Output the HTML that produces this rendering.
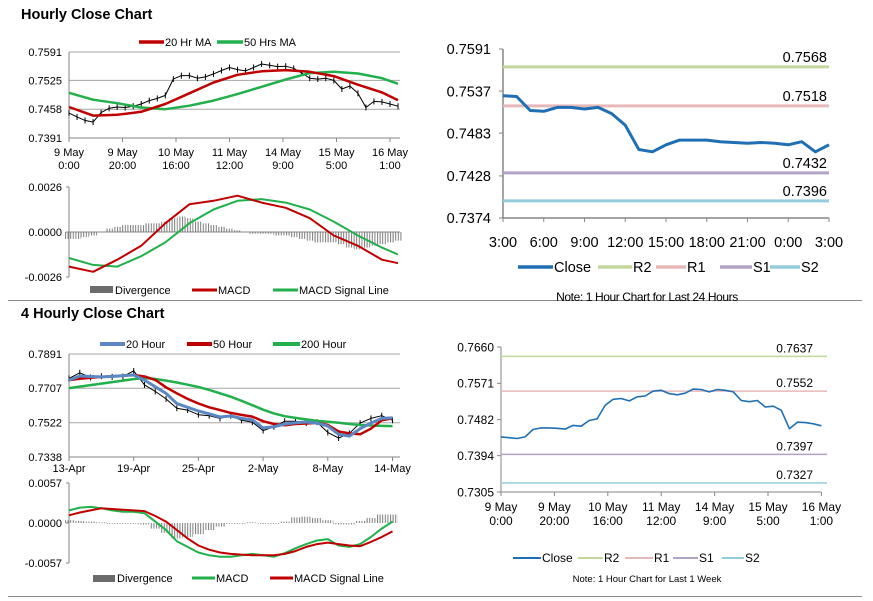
<!DOCTYPE html>
<html><head><meta charset="utf-8">
<style>
html,body{margin:0;padding:0;background:#fff;}
svg{display:block;font-family:"Liberation Sans",Arial,sans-serif;}
</style></head>
<body>
<svg id="root" width="873" height="601" viewBox="0 0 873 601" xmlns="http://www.w3.org/2000/svg">
<defs>
<pattern id="hatch" width="2.6" height="4" patternUnits="userSpaceOnUse"><rect x="0" y="0" width="1" height="4" fill="#7a7a7a"/></pattern>
</defs>
<rect width="873" height="601" fill="#fff"/>
<text x="21" y="19" font-size="14.5" font-weight="bold" fill="#000">Hourly Close Chart</text>
<text x="21" y="318" font-size="14.5" font-weight="bold" fill="#000">4 Hourly Close Chart</text>
<line x1="8" y1="300.5" x2="862" y2="300.5" stroke="#8a8a8a" stroke-width="1"/>
<line x1="8" y1="596.5" x2="862" y2="596.5" stroke="#8a8a8a" stroke-width="1"/>

<g font-size="11">
<line x1="139" y1="42" x2="164" y2="42" stroke="#c00000" stroke-width="3.5"/><text x="165" y="46">20 Hr MA</text>
<line x1="217" y1="42" x2="243" y2="42" stroke="#21b04b" stroke-width="3.5"/><text x="244" y="46">50 Hrs MA</text>
</g>
<g font-size="11">
<rect x="90" y="286" width="23" height="7" fill="#6b6b6b"/><text x="115" y="294">Divergence</text>
<line x1="192" y1="290" x2="217" y2="290" stroke="#c00000" stroke-width="3"/><text x="218" y="294">MACD</text>
<line x1="273" y1="290" x2="298" y2="290" stroke="#21b04b" stroke-width="3"/><text x="299" y="294">MACD Signal Line</text>
</g>
<g font-size="11">
<line x1="100" y1="344" x2="125" y2="344" stroke="#5b87c2" stroke-width="4"/><text x="126" y="348">20 Hour</text>
<line x1="187" y1="344" x2="212" y2="344" stroke="#c00000" stroke-width="4"/><text x="213" y="348">50 Hour</text>
<line x1="273" y1="344" x2="300" y2="344" stroke="#21b04b" stroke-width="4"/><text x="301" y="348">200 Hour</text>
</g>
<g font-size="11">
<rect x="93" y="575" width="22" height="7" fill="#6b6b6b"/><text x="117" y="582">Divergence</text>
<line x1="192" y1="578" x2="215" y2="578" stroke="#21b04b" stroke-width="3"/><text x="216" y="582">MACD</text>
<line x1="270" y1="578" x2="293" y2="578" stroke="#c00000" stroke-width="3"/><text x="294" y="582">MACD Signal Line</text>
</g>
<g font-size="14.5">
<line x1="518" y1="267" x2="553" y2="267" stroke="#1f6fb5" stroke-width="3.5"/><text x="554" y="272">Close</text>
<line x1="598" y1="267" x2="632" y2="267" stroke="#c3d69b" stroke-width="3.5"/><text x="633" y="272">R2</text>
<line x1="656" y1="267" x2="686" y2="267" stroke="#e6b9b8" stroke-width="3.5"/><text x="687" y="272">R1</text>
<line x1="720" y1="267" x2="752" y2="267" stroke="#b3a2c7" stroke-width="3.5"/><text x="753" y="272">S1</text>
<line x1="770" y1="267" x2="800" y2="267" stroke="#93cddd" stroke-width="3.5"/><text x="801" y="272">S2</text>
</g>
<text x="647" y="301" font-size="12" text-anchor="middle" letter-spacing="-0.4">Note: 1 Hour Chart for Last 24 Hours</text>
<g font-size="12">
<line x1="513" y1="558" x2="541" y2="558" stroke="#1f6fb5" stroke-width="2"/><text x="542" y="562">Close</text>
<line x1="578" y1="558" x2="603" y2="558" stroke="#c3d69b" stroke-width="2"/><text x="604" y="562">R2</text>
<line x1="625" y1="558" x2="653" y2="558" stroke="#e6b9b8" stroke-width="2"/><text x="654" y="562">R1</text>
<line x1="673" y1="558" x2="698" y2="558" stroke="#b3a2c7" stroke-width="2"/><text x="699" y="562">S1</text>
<line x1="722" y1="558" x2="744" y2="558" stroke="#93cddd" stroke-width="2"/><text x="745" y="562">S2</text>
</g>
<text x="647" y="582" font-size="9.5" text-anchor="middle">Note: 1 Hour Chart for Last 1 Week</text>
</svg>
<script>
// ---------- Chart A: hourly close (3-hour steps) ----------
const closeA = [0.7449,0.7440,0.7432,0.7428,0.7450,0.7460,0.7463,0.7462,0.7465,0.7470,0.7478,0.7483,0.7490,0.7528,0.7536,0.7536,0.7530,0.7533,0.7540,0.7548,0.7555,0.7550,0.7547,0.7555,0.7563,0.7560,0.7557,0.7558,0.7553,0.7542,0.7530,0.7528,0.7530,0.7525,0.7505,0.7512,0.7495,0.7462,0.7476,0.7475,0.7470,0.7465];
const maHoursA = [0,9,18,27,36,45,54,63,72,81,90,99,108,117,123];
const ma20A = [0.7463,0.7443,0.7445,0.7452,0.7470,0.7495,0.7520,0.7538,0.7546,0.7549,0.7545,0.7535,0.7515,0.7497,0.7479];
const ma50A = [0.7496,0.7480,0.7472,0.7462,0.7458,0.7466,0.7478,0.7493,0.7510,0.7527,0.7542,0.7545,0.7541,0.7530,0.7517];
const ticksA = [0.7591,0.7525,0.7458,0.7391];
const xLabelsA = [["9 May","0:00"],["9 May","20:00"],["10 May","16:00"],["11 May","12:00"],["14 May","9:00"],["15 May","5:00"],["16 May","1:00"]];
const macdA = [-0.0020,-0.0023,-0.0016,-0.0008,0.0005,0.0016,0.0018,0.0021,0.0017,0.0014,0.0008,-0.0002,-0.0008,-0.0016,-0.0018];
const signalA = [-0.0015,-0.0019,-0.0020,-0.0014,-0.0006,0.0005,0.0013,0.0018,0.0019,0.0017,0.0013,0.0006,-0.0002,-0.0009,-0.0013];
const divA = [-0.0004,-0.0004,-0.0003,-0.0002,0.0000,0.0002,0.0003,0.0004,0.0004,0.0004,0.0005,0.0005,0.0006,0.0008,0.0009,0.0008,0.0006,0.0005,0.0004,0.0003,0.0002,0.0001,0.0000,-0.0001,-0.0001,-0.0001,-0.0002,-0.0002,-0.0003,-0.0004,-0.0005,-0.0006,-0.0006,-0.0006,-0.0007,-0.0009,-0.0010,-0.0009,-0.0008,-0.0007,-0.0006,-0.0005];
const macdTicksA = [0.0026,0.0000,-0.0026];
const macdTickLabelsA = ["0.0026","0.0000","-0.0026"];

// ---------- Chart B: 24h pivots ----------
const closeB = [0.7531,0.7530,0.7512,0.7511,0.7516,0.7516,0.7514,0.7516,0.7508,0.7493,0.7462,0.7459,0.7468,0.7474,0.7474,0.7474,0.7472,0.7471,0.7470,0.7471,0.7470,0.7468,0.7472,0.7459,0.7468];
const levelsB = [0.7568,0.7518,0.7432,0.7396];
const levelNamesB = ["r2","r1","s1","s2"];
const ticksB = [0.7591,0.7537,0.7483,0.7428,0.7374];
const xLabelsB = ["3:00","6:00","9:00","12:00","15:00","18:00","21:00","0:00","3:00"];

// ---------- Chart C: 4-hourly (daily steps) ----------
const closeC = [0.7760,0.7790,0.7765,0.7772,0.7768,0.7770,0.7800,0.7725,0.7690,0.7650,0.7600,0.7590,0.7565,0.7560,0.7545,0.7560,0.7535,0.7525,0.7480,0.7500,0.7530,0.7530,0.7520,0.7525,0.7470,0.7440,0.7465,0.7520,0.7545,0.7560,0.7535];
const ma20C = [0.7751,0.7773,0.7770,0.7768,0.7770,0.7775,0.7778,0.7751,0.7715,0.7680,0.7625,0.7605,0.7585,0.7570,0.7553,0.7558,0.7545,0.7537,0.7494,0.7500,0.7515,0.7522,0.7526,0.7520,0.7504,0.7460,0.7450,0.7490,0.7520,0.7545,0.7548];
const ma50C = [0.7751,0.7758,0.7763,0.7768,0.7772,0.7775,0.7778,0.7770,0.7752,0.7712,0.7680,0.7650,0.7625,0.7605,0.7590,0.7575,0.7564,0.7555,0.7530,0.7515,0.7508,0.7515,0.7518,0.7521,0.7510,0.7475,0.7465,0.7460,0.7490,0.7535,0.7545];
const ma200C = [0.7708,0.7716,0.7724,0.7732,0.7740,0.7748,0.7756,0.7762,0.7757,0.7748,0.7738,0.7726,0.7714,0.7698,0.7680,0.7662,0.7640,0.7616,0.7592,0.7572,0.7557,0.7548,0.7540,0.7532,0.7527,0.7522,0.7515,0.7510,0.7507,0.7505,0.7504];
const ticksC = [0.7891,0.7707,0.7522,0.7338];
const xLabelsC = ["13-Apr","19-Apr","25-Apr","2-May","8-May","14-May"];
const macdC = [0.0018,0.0022,0.0023,0.0021,0.0018,0.0016,0.0016,0.0014,0.0002,-0.0010,-0.0026,-0.0034,-0.0042,-0.0046,-0.0048,-0.0048,-0.0046,-0.0044,-0.0046,-0.0048,-0.0043,-0.0036,-0.0030,-0.0025,-0.0023,-0.0032,-0.0034,-0.0030,-0.0020,-0.0008,0.0002];
const signalC = [0.0011,0.0015,0.0018,0.0021,0.0020,0.0019,0.0018,0.0017,0.0010,0.0002,-0.0010,-0.0022,-0.0032,-0.0038,-0.0042,-0.0044,-0.0045,-0.0046,-0.0046,-0.0046,-0.0044,-0.0040,-0.0034,-0.0030,-0.0028,-0.0030,-0.0032,-0.0033,-0.0027,-0.0020,-0.0012];
const divC = [0.0004,0.0003,0.0002,0.0001,0.0000,-0.0001,-0.0001,-0.0002,-0.0008,-0.0014,-0.0022,-0.0020,-0.0016,-0.0010,-0.0005,-0.0001,0.0000,0.0001,0.0000,-0.0001,0.0002,0.0008,0.0009,0.0007,0.0004,-0.0002,-0.0002,0.0003,0.0007,0.0012,0.0012];
const macdTicksC = [0.0057,0.0000,-0.0057];
const macdTickLabelsC = ["0.0057","0.0000","-0.0057"];

// ---------- Chart D: 1 week pivots (3-hour steps) ----------
const closeD = [0.7440,0.7438,0.7436,0.7440,0.7458,0.7462,0.7462,0.7461,0.7459,0.7468,0.7466,0.7480,0.7484,0.7517,0.7532,0.7534,0.7528,0.7538,0.7540,0.7552,0.7554,0.7546,0.7543,0.7547,0.7557,0.7556,0.7550,0.7556,0.7554,0.7550,0.7529,0.7526,0.7529,0.7513,0.7515,0.7505,0.7460,0.7476,0.7475,0.7472,0.7467];
const levelsD = [0.7637,0.7552,0.7397,0.7327];
const ticksD = [0.7660,0.7571,0.7482,0.7394,0.7305];
const xLabelsD = [["9 May","0:00"],["9 May","20:00"],["10 May","16:00"],["11 May","12:00"],["14 May","9:00"],["15 May","5:00"],["16 May","1:00"]];

const levelColors = ["#c3d69b","#e6b9b8","#b3a2c7","#93cddd"];
const NS = "http://www.w3.org/2000/svg";
const root = document.getElementById('root');
function mk(tag, attrs, parent) {
  const el = document.createElementNS(NS, tag);
  for (const k in attrs) el.setAttribute(k, attrs[k]);
  (parent || root).appendChild(el);
  return el;
}
function lin(d0, d1, r0, r1) { return v => r0 + (v - d0) / (d1 - d0) * (r1 - r0); }
function pts(xs, ys) { return xs.map((x, i) => x.toFixed(1) + ',' + ys[i].toFixed(1)).join(' '); }
function drawLine(xs, ys, color, w, name) {
  const p = mk('polyline', {points: pts(xs, ys), fill: 'none', stroke: color, 'stroke-width': w, 'stroke-linejoin': 'round'});
  
  
  return p;
}
function yTick(x, y, label, fs, name) {
  const t = mk('text', {x: x, y: y + fs * 0.36, 'font-size': fs, 'text-anchor': 'end'});
  t.textContent = label;
  
  
}

// ===== Chart A =====
const xA = lin(0, 20, 69, 122.5);
const yA = lin(0.7591, 0.7391, 52, 138);
ticksA.forEach((v, i) => {
  const g = mk('line', {x1: 69, x2: 400, y1: yA(v), y2: yA(v), stroke: i === 3 ? '#868686' : '#a6a6a6', 'stroke-width': 1});
  
  
  yTick(62, yA(v), v.toFixed(4), 11, 'y-tick-hourly');
});
mk('line', {x1: 69, x2: 69, y1: 52, y2: 138, stroke: '#868686'});
xLabelsA.forEach((l, i) => {
  const x = xA(i * 20);
  mk('line', {x1: x, x2: x, y1: 138, y2: 142, stroke: '#868686'});
  const t = mk('text', {x: x, y: 156, 'font-size': 11, 'text-anchor': 'middle'});
  t.textContent = l[0];
  
  
  const t2 = mk('text', {x: x, y: 169, 'font-size': 11, 'text-anchor': 'middle'});
  t2.textContent = l[1];
  
  
});
const cxA = closeA.map((v, i) => xA(i * 3));
const cyA = closeA.map(v => yA(v));
closeA.forEach((v, i) => {
  const b = mk('line', {x1: cxA[i], x2: cxA[i], y1: cyA[i] - 3, y2: cyA[i] + 3, stroke: '#000', 'stroke-width': 1});
  
  
});
drawLine(cxA, cyA, '#000', 1, 'close-line-hourly');
drawLine(maHoursA.map(xA), ma50A.map(yA), '#21b04b', 2.5, 'ma50-line-hourly');
drawLine(maHoursA.map(xA), ma20A.map(yA), '#c00000', 2.5, 'ma20-line-hourly');

// MACD A
const ymA = lin(0.0026, -0.0026, 187, 277);
mk('line', {x1: 69, x2: 69, y1: 187, y2: 277, stroke: '#868686'});
macdTicksA.forEach((v, i) => {
  mk('line', {x1: 66, x2: 69, y1: ymA(v), y2: ymA(v), stroke: '#868686'});
  yTick(62, ymA(v), macdTickLabelsA[i], 11, 'y-tick-hourly-macd');
});
mk('line', {x1: 69, x2: 400, y1: ymA(0), y2: ymA(0), stroke: '#868686'});
divA.forEach((v, i) => {
  const x = xA(i * 3);
  const b = mk('rect', {x: x - 4, y: Math.min(ymA(v), ymA(0)), width: 8, height: Math.abs(ymA(v) - ymA(0)), fill: 'url(#hatch)'});
  
  
});
drawLine(maHoursA.map(xA), signalA.map(ymA), '#21b04b', 2, 'signal-line-hourly');
drawLine(maHoursA.map(xA), macdA.map(ymA), '#c00000', 2, 'macd-line-hourly');

// ===== Chart B =====
const xB = lin(0, 24, 503, 829);
const yB = lin(0.7591, 0.7374, 49, 218);
mk('line', {x1: 503, x2: 503, y1: 49, y2: 218, stroke: '#868686', 'stroke-width': 1.5});
mk('line', {x1: 503, x2: 829, y1: 218, y2: 218, stroke: '#868686', 'stroke-width': 1.5});
ticksB.forEach(v => {
  mk('line', {x1: 499, x2: 503, y1: yB(v), y2: yB(v), stroke: '#868686'});
  yTick(491, yB(v), v.toFixed(4), 14.5, 'y-tick-24h');
});
xLabelsB.forEach((l, i) => {
  const x = xB(i * 3);
  mk('line', {x1: x, x2: x, y1: 218, y2: 222, stroke: '#868686'});
  const t = mk('text', {x: x, y: 247, 'font-size': 14.5, 'text-anchor': 'middle'});
  t.textContent = l;
  
  
});
levelsB.forEach((v, i) => {
  const l = mk('line', {x1: 503, x2: 829, y1: yB(v), y2: yB(v), stroke: levelColors[i], 'stroke-width': 3});
  
  
  const t = mk('text', {x: 827, y: yB(v) - 5, 'font-size': 14.5, 'text-anchor': 'end'});
  t.textContent = v.toFixed(4);
  
  
});
drawLine(closeB.map((v, i) => xB(i)), closeB.map(yB), '#1f6fb5', 3, 'close-line-24h');

// ===== Chart C =====
const xC = lin(0, 6, 69, 133.7);
const yC = lin(0.7891, 0.7338, 354, 457);
ticksC.forEach((v, i) => {
  const g = mk('line', {x1: 69, x2: 400, y1: yC(v), y2: yC(v), stroke: i === 3 ? '#868686' : '#a6a6a6'});
  
  
  yTick(62, yC(v), v.toFixed(4), 11, 'y-tick-4h');
});
mk('line', {x1: 69, x2: 69, y1: 354, y2: 457, stroke: '#868686'});
xLabelsC.forEach((l, i) => {
  const x = xC(i * 6);
  mk('line', {x1: x, x2: x, y1: 457, y2: 461, stroke: '#868686'});
  const t = mk('text', {x: x, y: 472, 'font-size': 11, 'text-anchor': 'middle'});
  t.textContent = l;
  
  
});
const cxC = closeC.map((v, i) => xC(i));
const cyC = closeC.map(yC);
closeC.forEach((v, i) => {
  const b = mk('line', {x1: cxC[i], x2: cxC[i], y1: cyC[i] - 3, y2: cyC[i] + 3, stroke: '#000'});
  
  
});
drawLine(cxC, cyC, '#000', 1, 'close-line-4h');
drawLine(ma200C.map((v, i) => xC(i)), ma200C.map(yC), '#21b04b', 2.5, 'ma200-line-4h');
drawLine(ma50C.map((v, i) => xC(i)), ma50C.map(yC), '#c00000', 2.5, 'ma50-line-4h');
drawLine(ma20C.map((v, i) => xC(i)), ma20C.map(yC), '#5b87c2', 3, 'ma20-line-4h');

// MACD C
const ymC = lin(0.0057, -0.0057, 483, 563);
mk('line', {x1: 69, x2: 69, y1: 483, y2: 563, stroke: '#868686'});
macdTicksC.forEach((v, i) => {
  mk('line', {x1: 66, x2: 69, y1: ymC(v), y2: ymC(v), stroke: '#868686'});
  yTick(62, ymC(v), macdTickLabelsC[i], 11, 'y-tick-4h-macd');
});
divC.forEach((v, i) => {
  const x = xC(i);
  const b = mk('rect', {x: x - 5.4, y: Math.min(ymC(v), ymC(0)), width: 10.8, height: Math.max(0.8, Math.abs(ymC(v) - ymC(0))), fill: 'url(#hatch)'});
  
  
});
drawLine(macdC.map((v, i) => xC(i)), macdC.map(ymC), '#21b04b', 2, 'macd-line-4h');
drawLine(signalC.map((v, i) => xC(i)), signalC.map(ymC), '#c00000', 2, 'signal-line-4h');

// ===== Chart D =====
const xD = lin(0, 20, 501, 554.4);
const yD = lin(0.7660, 0.7305, 347, 492);
mk('line', {x1: 501, x2: 501, y1: 347, y2: 492, stroke: '#868686'});
mk('line', {x1: 501, x2: 821, y1: 492, y2: 492, stroke: '#868686'});
ticksD.forEach(v => {
  mk('line', {x1: 497, x2: 501, y1: yD(v), y2: yD(v), stroke: '#868686'});
  yTick(494, yD(v), v.toFixed(4), 12, 'y-tick-week');
});
xLabelsD.forEach((l, i) => {
  const x = xD(i * 20);
  mk('line', {x1: x, x2: x, y1: 492, y2: 496, stroke: '#868686'});
  const t = mk('text', {x: x, y: 511, 'font-size': 12, 'text-anchor': 'middle'});
  t.textContent = l[0];
  
  
  const t2 = mk('text', {x: x, y: 525, 'font-size': 12, 'text-anchor': 'middle'});
  t2.textContent = l[1];
  
  
});
levelsD.forEach((v, i) => {
  const l = mk('line', {x1: 501, x2: 827, y1: yD(v), y2: yD(v), stroke: levelColors[i], 'stroke-width': 1.5});
  
  
  const t = mk('text', {x: 813, y: yD(v) - 4, 'font-size': 12, 'text-anchor': 'end'});
  t.textContent = v.toFixed(4);
  
  
});
drawLine(closeD.map((v, i) => xD(i * 3)), closeD.map(yD), '#1f6fb5', 1.6, 'close-line-week');
</script>
</body></html>
